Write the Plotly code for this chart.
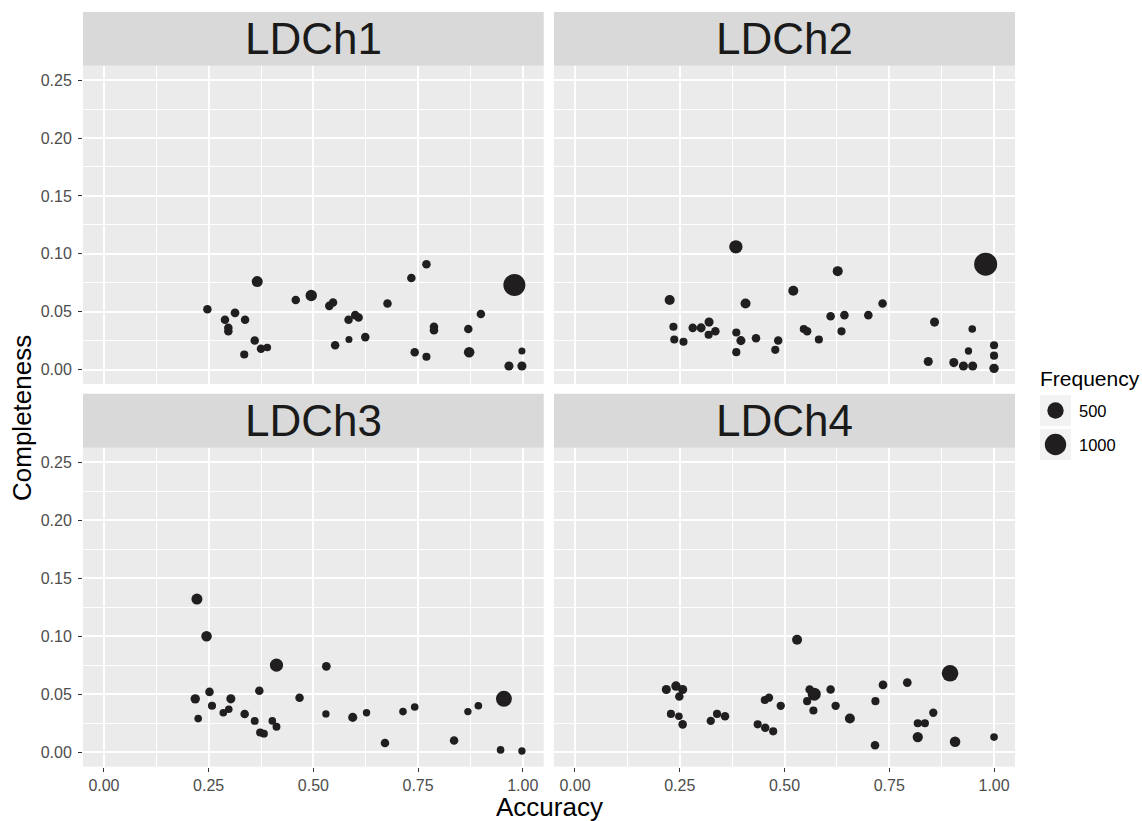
import numpy as np
import plotly.graph_objects as go

# ---------------- data ----------------
panels = ["LDCh1", "LDCh2", "LDCh3", "LDCh4"]

acc1 = [0.247, 0.289, 0.313, 0.337, 0.297, 0.297, 0.366, 0.360, 0.335, 0.375, 0.390, 0.458,
        0.495, 0.538, 0.547, 0.584, 0.600, 0.608, 0.552, 0.585, 0.624, 0.677, 0.734, 0.770,
        0.788, 0.788, 0.742, 0.770, 0.870, 0.872, 0.900, 0.980, 0.967, 0.998, 0.998]
comp1 = [0.052, 0.043, 0.049, 0.043, 0.036, 0.033, 0.076, 0.025, 0.013, 0.018, 0.019, 0.060,
         0.064, 0.055, 0.058, 0.043, 0.047, 0.045, 0.021, 0.026, 0.028, 0.057, 0.079, 0.091,
         0.037, 0.034, 0.015, 0.011, 0.035, 0.015, 0.048, 0.073, 0.003, 0.003, 0.016]
freq1 = [85, 85, 90, 85, 85, 85, 170, 85, 75, 85, 65, 85,
         190, 85, 85, 85, 85, 85, 85, 55, 85, 85, 85, 85,
         85, 85, 85, 75, 85, 150, 85, 1075, 100, 100, 55]

acc2 = [0.226, 0.235, 0.237, 0.259, 0.281, 0.301, 0.320, 0.319, 0.335, 0.384, 0.385, 0.396,
        0.385, 0.407, 0.432, 0.485, 0.478, 0.521, 0.546, 0.554, 0.582, 0.610, 0.627, 0.643,
        0.636, 0.700, 0.734, 0.858, 0.843, 0.904, 0.927, 0.949, 0.939, 0.948, 1.000, 1.000,
        1.000, 0.980]
comp2 = [0.060, 0.037, 0.026, 0.024, 0.036, 0.036, 0.041, 0.030, 0.033, 0.106, 0.032, 0.025,
         0.015, 0.057, 0.027, 0.025, 0.017, 0.068, 0.035, 0.033, 0.026, 0.046, 0.085, 0.047,
         0.033, 0.047, 0.057, 0.041, 0.007, 0.006, 0.003, 0.003, 0.016, 0.035, 0.021, 0.012,
         0.001, 0.091]
freq2 = [130, 75, 75, 75, 85, 100, 100, 75, 85, 290, 75, 100,
         75, 130, 85, 85, 75, 130, 75, 85, 75, 85, 130, 85,
         75, 85, 85, 100, 100, 100, 100, 100, 60, 65, 75, 75,
         110, 1200]

acc3 = [0.222, 0.245, 0.218, 0.225, 0.252, 0.258, 0.285, 0.298, 0.303, 0.336, 0.360, 0.371,
        0.373, 0.382, 0.402, 0.412, 0.412, 0.467, 0.531, 0.530, 0.594, 0.627, 0.671, 0.714,
        0.742, 0.836, 0.869, 0.894, 0.955, 0.947, 0.998]
comp3 = [0.132, 0.100, 0.046, 0.029, 0.052, 0.040, 0.034, 0.037, 0.046, 0.033, 0.027, 0.053,
         0.017, 0.016, 0.027, 0.022, 0.075, 0.047, 0.074, 0.033, 0.030, 0.034, 0.008, 0.035,
         0.039, 0.010, 0.035, 0.040, 0.046, 0.002, 0.001]
freq3 = [170, 150, 110, 65, 85, 75, 65, 65, 100, 85, 70, 85,
         75, 70, 65, 70, 280, 85, 90, 60, 100, 60, 85, 65,
         65, 85, 60, 65, 470, 65, 60]

acc4 = [0.218, 0.241, 0.257, 0.249, 0.229, 0.248, 0.257, 0.324, 0.339, 0.358, 0.436, 0.454,
        0.473, 0.453, 0.463, 0.491, 0.530, 0.560, 0.571, 0.554, 0.569, 0.610, 0.622, 0.656,
        0.717, 0.735, 0.716, 0.793, 0.818, 0.835, 0.855, 0.818, 0.895, 0.907, 1.000]
comp4 = [0.054, 0.057, 0.054, 0.048, 0.033, 0.031, 0.024, 0.027, 0.033, 0.031, 0.024, 0.021,
         0.018, 0.045, 0.047, 0.040, 0.097, 0.054, 0.050, 0.044, 0.036, 0.054, 0.040, 0.029,
         0.044, 0.058, 0.006, 0.060, 0.025, 0.025, 0.034, 0.013, 0.068, 0.009, 0.013]
freq4 = [100, 110, 100, 85, 75, 65, 85, 80, 75, 85, 75, 85,
         75, 75, 80, 80, 130, 85, 270, 75, 75, 85, 80, 130,
         75, 90, 85, 90, 75, 75, 80, 140, 520, 150, 65]

x_tickvals = [0.0, 0.25, 0.5, 0.75, 1.0]
x_ticktext = ["0.00", "0.25", "0.50", "0.75", "1.00"]
y_tickvals = [0.0, 0.05, 0.10, 0.15, 0.20, 0.25]
y_ticktext = ["0.00", "0.05", "0.10", "0.15", "0.20", "0.25"]
legend_breaks = [500, 1000]

# ---------------- style ----------------
W, H = 1142, 821
FONT = "Liberation Sans, Arial, sans-serif"
POINT = "rgb(32,30,31)"
SIZE_PX = (5.0, 23.0)
FREQ_LIM = (40.0, 1200.0)


def size_px(f):
    f = np.asarray(f, dtype=float)
    t = np.clip((f - FREQ_LIM[0]) / (FREQ_LIM[1] - FREQ_LIM[0]), 0, 1)
    return SIZE_PX[0] + (SIZE_PX[1] - SIZE_PX[0]) * np.sqrt(t)


def px(x):
    return x / W


def py(y):
    return 1 - y / H


# panel pixel boxes (left, right) and (top, bottom)
cols = [(83.0, 543.7), (554.0, 1015.0)]
rows = [(65.7, 384.0), (447.7, 766.7)]
strips = [(12.0, 65.7), (393.7, 447.7)]

data = [(acc1, comp1, freq1), (acc2, comp2, freq2), (acc3, comp3, freq3), (acc4, comp4, freq4)]

fig = go.Figure()
shapes = []
annotations = []
layout_axes = {}

for i, (name, (a, c, f)) in enumerate(zip(panels, data)):
    r, col = divmod(i, 2)
    n = i + 1
    xs = "" if n == 1 else str(n)
    fig.add_trace(go.Scatter(
        x=a, y=c, mode="markers", xaxis="x" + xs, yaxis="y" + xs,
        marker=dict(size=size_px(f), color=POINT, line=dict(width=0), opacity=1),
        showlegend=False, hoverinfo="x+y"))
    xl, xr = cols[col]
    yt, yb = rows[r]
    bottom = r == 1
    left = col == 0
    layout_axes["xaxis" + xs] = dict(
        domain=[px(xl), px(xr)], anchor="y" + xs, range=[-0.05, 1.05],
        tickmode="array", tickvals=x_tickvals, ticktext=x_ticktext,
        showticklabels=bottom, ticks="outside" if bottom else "", ticklen=4,
        tickwidth=1.1, tickcolor="#333333", ticklabelstandoff=0,
        tickfont=dict(family=FONT, size=16, color="#4D4D4D"),
        showgrid=True, gridcolor="white", gridwidth=2, zeroline=False, showline=False,
        minor=dict(tickmode="linear", tick0=0, dtick=0.125, showgrid=True,
                   gridcolor="white", gridwidth=1, ticks=""),
        fixedrange=True)
    layout_axes["yaxis" + xs] = dict(
        domain=[py(yb), py(yt)], anchor="x" + xs, range=[-0.0125, 0.2625],
        tickmode="array", tickvals=y_tickvals, ticktext=y_ticktext,
        showticklabels=left, ticks="outside" if left else "", ticklen=4,
        tickwidth=1.1, tickcolor="#333333", ticklabelstandoff=3,
        tickfont=dict(family=FONT, size=16, color="#4D4D4D"),
        showgrid=True, gridcolor="white", gridwidth=2, zeroline=False, showline=False,
        minor=dict(tickmode="linear", tick0=0, dtick=0.025, showgrid=True,
                   gridcolor="white", gridwidth=1, ticks=""),
        fixedrange=True)
    st, sb = strips[r]
    shapes.append(dict(type="rect", xref="paper", yref="paper",
                       x0=px(xl), x1=px(xr), y0=py(sb), y1=py(st),
                       fillcolor="#D9D9D9", line=dict(width=0), layer="below"))
    annotations.append(dict(text=name, xref="paper", yref="paper",
                            x=px((xl + xr) / 2), y=py((st + sb) / 2),
                            xanchor="center", yanchor="middle", showarrow=False,
                            font=dict(family=FONT, size=44, color="#1A1A1A")))

# axis titles
annotations.append(dict(text="Accuracy", xref="paper", yref="paper",
                        x=px((cols[0][0] + cols[1][1]) / 2), y=py(807), xanchor="center",
                        yanchor="middle", showarrow=False,
                        font=dict(family=FONT, size=26, color="black")))
annotations.append(dict(text="Completeness", xref="paper", yref="paper",
                        x=px(22), y=py(418), xanchor="center", yanchor="middle",
                        textangle=-90, showarrow=False,
                        font=dict(family=FONT, size=26, color="black")))

# size legend (drawn manually)
annotations.append(dict(text="Frequency", xref="paper", yref="paper",
                        x=px(1038), y=py(379), xanchor="left", yanchor="middle",
                        showarrow=False, font=dict(family=FONT, size=21, color="black")))
key_centers = [410.5, 444.5]
for brk, cy in zip(legend_breaks, key_centers):
    shapes.append(dict(type="rect", xref="paper", yref="paper",
                       x0=px(1040), x1=px(1071), y0=py(cy + 15.5), y1=py(cy - 15.5),
                       fillcolor="#F2F2F2", line=dict(width=0)))
    d = float(size_px(brk))
    cx = 1055.5
    shapes.append(dict(type="circle", xref="paper", yref="paper",
                       x0=px(cx - d / 2), x1=px(cx + d / 2),
                       y0=py(cy + d / 2), y1=py(cy - d / 2),
                       fillcolor=POINT, line=dict(width=0)))
    annotations.append(dict(text=str(brk), xref="paper", yref="paper",
                            x=px(1077), y=py(cy), xanchor="left", yanchor="middle",
                            showarrow=False,
                            font=dict(family=FONT, size=16.5, color="black")))

fig.update_layout(
    width=W, height=H, margin=dict(l=0, r=0, t=0, b=0),
    paper_bgcolor="white", plot_bgcolor="#EBEBEB",
    shapes=shapes, annotations=annotations, showlegend=False,
    font=dict(family=FONT),
    **layout_axes)

fig.write_html("out.html")
